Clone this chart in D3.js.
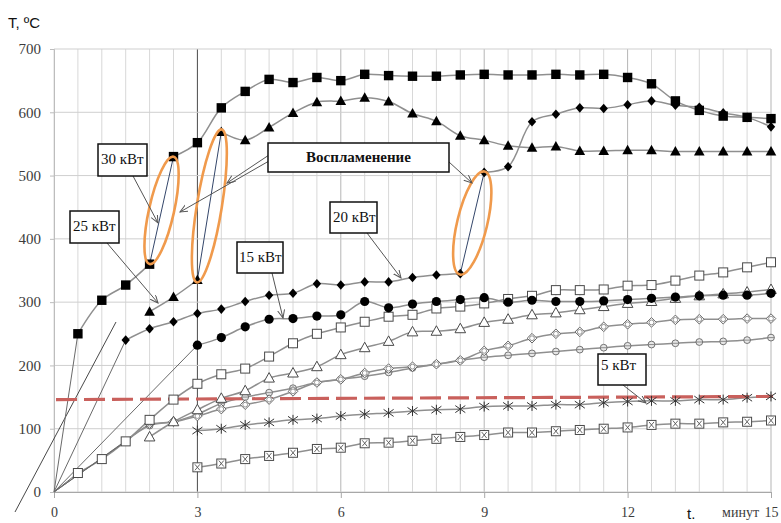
<!DOCTYPE html>
<html><head><meta charset="utf-8">
<script src="https://cdn.jsdelivr.net/npm/d3@7"></script>
<style>
html,body{margin:0;padding:0;background:#fff;}
svg{display:block;}
</style></head><body>
<svg id="chart" width="781" height="523"></svg>
<script>
// ---------- DATA ----------
const xTicks = [0, 3, 6, 9, 12, 15];
const xTickLabels = ["0", "3", "6", "9", "12", "15"];
const yTicks = [0, 100, 200, 300, 400, 500, 600, 700];
const yTickLabels = ["0", "100", "200", "300", "400", "500", "600", "700"];

// 30 kW (filled squares): before / after ignition
const t30a = [0.5, 1, 1.5, 2];
const v30a = [250, 303, 327, 360];
const t30b = [2.5, 3, 3.5, 4, 4.5, 5, 5.5, 6, 6.5, 7, 7.5, 8, 8.5, 9, 9.5, 10, 10.5, 11, 11.5, 12, 12.5, 13, 13.5, 14, 14.5, 15];
const v30b = [530, 552, 607, 633, 652, 647, 655, 650, 660, 658, 657, 657, 659, 660, 659, 659, 660, 659, 660, 655, 645, 618, 603, 594, 592, 590];

// 25 kW (filled triangles)
const t25a = [2, 2.5, 3];
const v25a = [285, 308, 335];
const t25b = [3.5, 4, 4.5, 5, 5.5, 6, 6.5, 7, 7.5, 8, 8.5, 9, 9.5, 10, 10.5, 11, 11.5, 12, 12.5, 13, 13.5, 14, 14.5, 15];
const v25b = [569, 556, 576, 599, 616, 618, 623, 617, 598, 586, 563, 556, 547, 544, 546, 539, 539, 540, 540, 538, 538, 538, 538, 538];

// 20 kW (filled diamonds)
const t20a = [1.5, 2, 2.5, 3, 3.5, 4, 4.5, 5, 5.5, 6, 6.5, 7, 7.5, 8, 8.5];
const v20a = [240, 258, 269, 282, 289, 301, 311, 314, 329, 327, 332, 332, 339, 343, 345];
const t20b = [9, 9.5, 10, 10.5, 11, 11.5, 12, 12.5, 13, 13.5, 14, 14.5, 15];
const v20b = [505, 514, 585, 597, 607, 606, 612, 618, 611, 608, 599, 592, 577];

// 15 kW (filled circles)
const t15 = [3, 3.5, 4, 4.5, 5, 5.5, 6, 6.5, 7, 7.5, 8, 8.5, 9, 9.5, 10, 10.5, 11, 11.5, 12, 12.5, 13, 13.5, 14, 14.5, 15];
const v15 = [232, 244, 261, 273, 274, 278, 280, 301, 291, 297, 301, 304, 307, 300, 303, 301, 301, 302, 304, 306, 308, 310, 311, 311, 314];

// open squares
const tOS = [0.5, 1, 1.5, 2, 2.5, 3, 3.5, 4, 4.5, 5, 5.5, 6, 6.5, 7, 7.5, 8, 8.5, 9, 9.5, 10, 10.5, 11, 11.5, 12, 12.5, 13, 13.5, 14, 14.5, 15];
const vOS = [30, 52, 80, 114, 146, 171, 186, 195, 214, 235, 250, 260, 269, 277, 280, 290, 293, 298, 305, 310, 319, 319, 320, 326, 327, 334, 342, 347, 355, 363];

// open triangles
const tOT = [2, 2.5, 3, 3.5, 4, 4.5, 5, 5.5, 6, 6.5, 7, 7.5, 8, 8.5, 9, 9.5, 10, 10.5, 11, 11.5, 12, 12.5, 13, 13.5, 14, 14.5, 15];
const vOT = [87, 111, 130, 148, 160, 180, 188, 198, 217, 228, 238, 253, 254, 258, 268, 273, 280, 283, 288, 293, 298, 301, 306, 310, 313, 316, 320];

// open diamonds with cross
const tOD = [2, 2.5, 3, 3.5, 4, 4.5, 5, 5.5, 6, 6.5, 7, 7.5, 8, 8.5, 9, 9.5, 10, 10.5, 11, 11.5, 12, 12.5, 13, 13.5, 14, 14.5, 15];
const vOD = [108, 111, 120, 131, 138, 146, 159, 173, 178, 188, 195, 198, 202, 208, 223, 231, 243, 250, 253, 261, 265, 268, 272, 273, 273, 274, 274];

// small grey circles
const tOC = [1.5, 2, 2.5, 3, 3.5, 4, 4.5, 5, 5.5, 6, 6.5, 7, 7.5, 8, 8.5, 9, 9.5, 10, 10.5, 11, 11.5, 12, 12.5, 13, 13.5, 14, 14.5, 15];
const vOC = [80, 105, 111, 123, 140, 150, 157, 164, 173, 178, 183, 189, 196, 202, 208, 213, 216, 219, 222, 225, 228, 231, 233, 235, 237, 238, 240, 244];

// 5 kW (asterisks)
const t5 = [3, 3.5, 4, 4.5, 5, 5.5, 6, 6.5, 7, 7.5, 8, 8.5, 9, 9.5, 10, 10.5, 11, 11.5, 12, 12.5, 13, 13.5, 14, 14.5, 15];
const v5 = [97, 100, 106, 110, 114, 116, 120, 123, 125, 128, 130, 131, 135, 136, 136, 138, 138, 141, 143, 144, 144, 146, 146, 149, 151];

// crossed squares
const tXS = [3, 3.5, 4, 4.5, 5, 5.5, 6, 6.5, 7, 7.5, 8, 8.5, 9, 9.5, 10, 10.5, 11, 11.5, 12, 12.5, 13, 13.5, 14, 14.5, 15];
const vXS = [39, 45, 52, 57, 62, 68, 70, 77, 78, 81, 84, 87, 90, 94, 94, 96, 98, 100, 102, 106, 108, 108, 110, 111, 113];

// threshold (red dashed)
const tLimit = [0, 15];
const vLimit = [146, 151];

const labelTexts = ["30 кВт", "25 кВт", "20 кВт", "15 кВт", "5 кВт", "Воспламенение"];

// ---------- CHART ----------
const x = d3.scaleLinear().domain([0, 15]).range([54, 771]);
const y = d3.scaleLinear().domain([0, 700]).range([492, 49]);
const svg = d3.select("#chart");
const serif = "'Liberation Serif','Times New Roman',serif";
const sans = "'Liberation Sans',Arial,sans-serif";
const zip = (ts, vs) => ts.map((t, i) => [t, vs[i]]);

// arrow marker
svg.append("defs").append("marker")
  .attr("id", "arr").attr("markerUnits", "userSpaceOnUse")
  .attr("markerWidth", 10).attr("markerHeight", 8)
  .attr("refX", 8).attr("refY", 3.5).attr("orient", "auto")
  .append("path").attr("d", "M0,0 L8,3.5 L0,7").attr("fill", "none")
  .attr("stroke", "#555").attr("stroke-width", 1);

// grid
const grid = svg.append("g");
const minorT = d3.range(0, 15.001, 0.5);
grid.selectAll("line.v").data(minorT).join("line")
  .attr("x1", d => x(d)).attr("x2", d => x(d)).attr("y1", y(700)).attr("y2", y(0))
  .attr("stroke", d => d === 3 ? "#4a4a4a" : (d % 3 === 0 && d > 0 ? "#b5b5b5" : "#d8d8d8"))
  .attr("stroke-width", 1);
grid.selectAll("line.h").data(yTicks).join("line")
  .attr("x1", x(0)).attr("x2", x(15)).attr("y1", d => y(d)).attr("y2", d => y(d))
  .attr("stroke", "#cfcfcf").attr("stroke-width", 1);

// axes
const yAxis = d3.axisLeft(y).tickValues(yTicks).tickFormat((d, i) => yTickLabels[i]).tickSize(4).tickPadding(9);
const gy = svg.append("g").attr("transform", `translate(${x(0)},0)`).call(yAxis);
gy.select(".domain").attr("stroke", "#bdbdbd");
gy.selectAll(".tick line").attr("stroke", "#bdbdbd");
gy.selectAll(".tick text").attr("font-family", serif).attr("font-size", 15).attr("fill", "#3c3c3c");

const xAxis = d3.axisBottom(x).tickValues(xTicks).tickFormat((d, i) => xTickLabels[i]).tickSize(6).tickPadding(9);
const gx = svg.append("g").attr("transform", `translate(0,${y(0)})`).call(xAxis);
gx.select(".domain").attr("stroke", "#a8a8a8");
gx.selectAll(".tick line").attr("stroke", "#a8a8a8");
gx.selectAll(".tick text").attr("font-family", serif).attr("font-size", 14).attr("fill", "#3c3c3c");

svg.append("text").attr("x", x(15) - 12).attr("y", 517).attr("text-anchor", "end")
  .attr("font-family", serif).attr("font-size", 14).attr("fill", "#3c3c3c").text("минут");
svg.append("text").attr("x", 687).attr("y", 519)
  .attr("font-family", sans).attr("font-size", 15).attr("fill", "#111").text("t.");
svg.append("text").attr("x", 8).attr("y", 28)
  .attr("font-family", sans).attr("font-size", 15).attr("fill", "#111").text("T, ºC");

// stray thin line at lower left
svg.append("line").attr("x1", 15).attr("y1", 512).attr("x2", 116).attr("y2", 322)
  .attr("stroke", "#333").attr("stroke-width", 0.9);

// series definitions
const series = [
  { segs: [zip(t30a, v30a), zip(t30b, v30b)], marker: "fsquare", origin: true },
  { segs: [zip(t25a, v25a), zip(t25b, v25b)], marker: "ftriangle", origin: false },
  { segs: [zip(t20a, v20a), zip(t20b, v20b)], marker: "fdiamond", origin: true },
  { segs: [zip(t15, v15)], marker: "fcircle", origin: true },
  { segs: [zip(tOS, vOS)], marker: "osquare", origin: true },
  { segs: [zip(tOT, vOT)], marker: "otriangle", origin: false },
  { segs: [zip(tOD, vOD)], marker: "odiamond", origin: true },
  { segs: [zip(tOC, vOC)], marker: "ocircle", origin: true },
  { segs: [zip(t5, v5)], marker: "asterisk", origin: false },
  { segs: [zip(tXS, vXS)], marker: "xsquare", origin: false }
];

const line = d3.line().x(d => x(d[0])).y(d => y(d[1])).curve(d3.curveCatmullRom.alpha(0.5));
const gl = svg.append("g");
series.forEach(s => {
  s.segs.forEach(seg => {
    gl.append("path").attr("d", line(seg)).attr("fill", "none")
      .attr("stroke", "#8f8f8f").attr("stroke-width", 1.5);
  });
  if (s.origin) {
    const f = s.segs[0][0];
    gl.append("line").attr("x1", x(0)).attr("y1", y(0)).attr("x2", x(f[0])).attr("y2", y(f[1]))
      .attr("stroke", "#6a6a6a").attr("stroke-width", 1);
  }
  if (s.segs.length > 1) {
    const a = s.segs[0][s.segs[0].length - 1], b = s.segs[1][0];
    gl.append("line").attr("x1", x(a[0])).attr("y1", y(a[1])).attr("x2", x(b[0])).attr("y2", y(b[1]))
      .attr("stroke", "#34466a").attr("stroke-width", 1);
  }
});

// red dashed threshold
svg.append("line")
  .attr("x1", x(tLimit[0]) + 2).attr("y1", y(vLimit[0]))
  .attr("x2", x(tLimit[1]) + 2).attr("y2", y(vLimit[1]))
  .attr("stroke", "#c9605c").attr("stroke-width", 3.2).attr("stroke-dasharray", "21,7");

// markers
const gm = svg.append("g");
function drawMarker(type, cx, cy) {
  const g = gm.append("g").attr("transform", `translate(${cx},${cy})`);
  switch (type) {
    case "fsquare": g.append("rect").attr("x", -4.7).attr("y", -4.7).attr("width", 9.4).attr("height", 9.4).attr("fill", "#000"); break;
    case "ftriangle": g.append("path").attr("d", "M0,-5.5 L5.3,4 L-5.3,4 Z").attr("fill", "#000"); break;
    case "fdiamond": g.append("path").attr("d", "M0,-4.8 L4.2,0 L0,4.8 L-4.2,0 Z").attr("fill", "#000"); break;
    case "fcircle": g.append("circle").attr("r", 4.6).attr("fill", "#000"); break;
    case "osquare": g.append("rect").attr("x", -4.5).attr("y", -4.5).attr("width", 9).attr("height", 9).attr("fill", "#fff").attr("stroke", "#4a4a4a").attr("stroke-width", 1); break;
    case "otriangle": g.append("path").attr("d", "M0,-5.5 L5.3,4 L-5.3,4 Z").attr("fill", "#fff").attr("stroke", "#4a4a4a").attr("stroke-width", 1); break;
    case "odiamond":
      g.append("path").attr("d", "M0,-4.8 L4.8,0 L0,4.8 L-4.8,0 Z").attr("fill", "#fff").attr("stroke", "#666").attr("stroke-width", 1);
      g.append("circle").attr("r", 2.4).attr("fill", "none").attr("stroke", "#888").attr("stroke-width", 0.9);
      break;
    case "ocircle":
      g.append("circle").attr("r", 3.4).attr("fill", "#e6e6e6").attr("stroke", "#666").attr("stroke-width", 0.9);
      g.append("line").attr("x1", -3.4).attr("x2", 3.4).attr("stroke", "#777").attr("stroke-width", 0.8);
      break;
    case "asterisk":
      g.append("path").attr("d", "M0,-5 L0,5 M-5,-3.5 L5,3.5 M-5,3.5 L5,-3.5").attr("stroke", "#333").attr("stroke-width", 1).attr("fill", "none"); break;
    case "xsquare":
      g.append("rect").attr("x", -4.5).attr("y", -4.5).attr("width", 9).attr("height", 9).attr("fill", "#fff").attr("stroke", "#4a4a4a").attr("stroke-width", 1);
      g.append("path").attr("d", "M-2.5,-3 L2.5,3 M-2.5,3 L2.5,-3").attr("stroke", "#555").attr("stroke-width", 0.9);
      break;
  }
}
// draw lower series first so filled markers stay on top
[...series].reverse().forEach(s => s.segs.forEach(seg => seg.forEach(p => drawMarker(s.marker, x(p[0]), y(p[1])))));

// orange ellipses around ignition jumps
const ells = [
  { seg: 0, rx: 12.5, ry: 55, rot: 12.6 },
  { seg: 1, rx: 12.5, ry: 77.5, rot: 9.2 },
  { seg: 2, rx: 15, ry: 53, rot: 13.5 }
];
ells.forEach(e => {
  const s = series[e.seg];
  const a = s.segs[0][s.segs[0].length - 1], b = s.segs[1][0];
  const cx = (x(a[0]) + x(b[0])) / 2, cy = (y(a[1]) + y(b[1])) / 2;
  svg.append("ellipse").attr("cx", cx).attr("cy", cy).attr("rx", e.rx).attr("ry", e.ry)
    .attr("transform", `rotate(${e.rot},${cx},${cy})`)
    .attr("fill", "none").attr("stroke", "#f09a4c").attr("stroke-width", 2.6);
});

// annotation arrows
const arrows = [
  [133, 176, 158, 223],
  [107, 243, 158, 303],
  [269, 161, 180, 212],
  [272, 153, 227, 183],
  [449, 162, 472, 183],
  [367, 233, 401, 278],
  [272, 273, 283, 318],
  [623, 385, 646, 403]
];
arrows.forEach(a => svg.append("line").attr("x1", a[0]).attr("y1", a[1]).attr("x2", a[2]).attr("y2", a[3])
  .attr("stroke", "#555").attr("stroke-width", 1).attr("marker-end", "url(#arr)"));

// label boxes
const boxes = [
  { i: 0, x: 98, y: 144, w: 49, h: 32, tx: 101, ty: 164, bold: false },
  { i: 1, x: 70, y: 211, w: 49, h: 32, tx: 73, ty: 231, bold: false },
  { i: 2, x: 330, y: 202, w: 47, h: 31, tx: 333, ty: 222, bold: false },
  { i: 3, x: 237, y: 242, w: 46, h: 31, tx: 239, ty: 262, bold: false },
  { i: 4, x: 598, y: 354, w: 48, h: 31, tx: 601, ty: 370, bold: false },
  { i: 5, x: 268, y: 143, w: 181, h: 29, tx: 358.5, ty: 162, bold: true }
];
boxes.forEach(b => {
  svg.append("rect").attr("x", b.x).attr("y", b.y).attr("width", b.w).attr("height", b.h)
    .attr("fill", "#fff").attr("stroke", "#111").attr("stroke-width", 1.5);
  svg.append("text").attr("x", b.tx).attr("y", b.ty)
    .attr("text-anchor", b.bold ? "middle" : "start")
    .attr("font-family", serif).attr("font-size", 15).attr("font-weight", b.bold ? "bold" : "normal")
    .attr("fill", "#111").text(labelTexts[b.i]);
});
</script>
</body></html>
